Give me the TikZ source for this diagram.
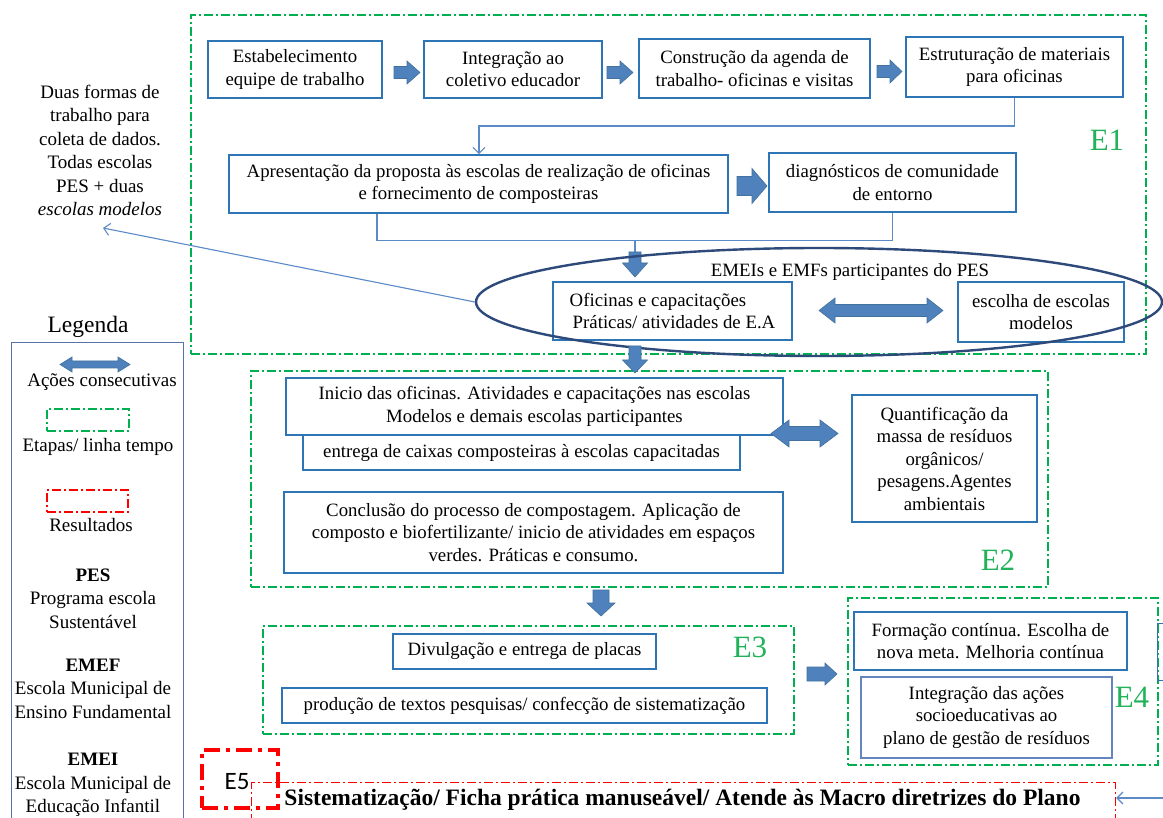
\documentclass[tikz,border=0pt]{standalone}
\usepackage{fontspec}
\setmainfont{Liberation Serif}
\newfontfamily\tagsans{Carlito}
\usetikzlibrary{shapes.geometric,arrows.meta,calc}

\definecolor{boxblue}{HTML}{2E75B6}
\definecolor{softblue}{HTML}{6585BF}
\definecolor{arrowfill}{HTML}{4F81BD}
\definecolor{arrowedge}{HTML}{41719C}
\definecolor{linkblue}{HTML}{5B8AC6}
\definecolor{ringblue}{HTML}{2E4A7A}
\definecolor{stagegreen}{HTML}{00B050}
\definecolor{labelgreen}{HTML}{22B35A}
\definecolor{resultred}{HTML}{FF0000}
\definecolor{legendedge}{HTML}{5873A3}

\newcommand\txtfont{\fontsize{18.8}{22.5}\selectfont}
\newcommand\legfont{\fontsize{19}{23.5}\selectfont}

\tikzset{
  box/.style={draw=boxblue, line width=1.6pt, fill=white, align=center,
    inner sep=0pt, font=\txtfont},
  stage/.style={draw=stagegreen, line width=1.2pt,
    dash pattern=on 9pt off 3pt on 2pt off 3pt, inner sep=0pt},
  resultframe/.style={draw=resultred, line width=1.2pt,
    dash pattern=on 9pt off 3pt on 2pt off 3pt},
  tagframe/.style={draw=resultred, line width=3.2pt,
    dash pattern=on 16pt off 6pt on 4pt off 6pt},
  stagelabel/.style={text=labelgreen, font=\fontsize{31}{34}\selectfont, inner sep=0pt},
  link/.style={draw=linkblue, line width=1.1pt},
  linktip/.style={-{Straight Barb[length=6pt,width=12pt]}},
  blockarrow/.style={fill=arrowfill, draw=arrowedge, line width=0.6pt},
  plain/.style={align=center, inner sep=0pt, font=\txtfont},
  legtext/.style={align=center, inner sep=0pt, font=\legfont},
  % single block arrow along +x: length, shaft half width, head half width, head length
  pics/barrow/.style n args={4}{code={
    \path[blockarrow] (0,-#2) -- ({#1-#4},-#2) -- ({#1-#4},-#3) -- (#1,0)
      -- ({#1-#4},#3) -- ({#1-#4},#2) -- (0,#2) -- cycle;
  }},
  % double block arrow along +x
  pics/dbarrow/.style n args={4}{code={
    \path[blockarrow] (0,0) -- (#4,-#3) -- (#4,-#2) -- ({#1-#4},-#2) -- ({#1-#4},-#3)
      -- (#1,0) -- ({#1-#4},#3) -- ({#1-#4},#2) -- (#4,#2) -- (#4,#3) -- cycle;
  }},
}

\begin{document}
\begin{tikzpicture}[x=1pt,y=-1pt]
\useasboundingbox[fill=white] (0,0) rectangle (1163,818);

% stage frames
\node[stage, minimum width=955pt, minimum height=339pt] (e1) at (668.5,184.5) {};
\node[stage, minimum width=797pt, minimum height=216pt] (e2) at (649.5,479) {};
\node[stage, minimum width=531pt, minimum height=108pt] (e3) at (528.5,680) {};
\node[stage, minimum width=310pt, minimum height=167pt] (e4) at (1003,681.5) {};

\node[stagelabel] (l1) at (1107,140) {E1};
\node[stagelabel] (l2) at (998,560) {E2};
\node[stagelabel] (l3) at (750,647) {E3};
\node[stagelabel] (l4) at (1132,697) {E4};

% E1: first row
\node[box, minimum width=174pt, minimum height=57pt] (b1) at (295,69.5)
  {Estabelecimento\\equipe de trabalho};
\node[box, minimum width=178pt, minimum height=57pt] (b2) at (513,69.5)
  {Integração ao\\coletivo educador};
\node[box, minimum width=231pt, minimum height=59pt] (b3) at (754.5,68.5)
  {Construção da agenda de\\trabalho- oficinas e visitas};
\node[box, minimum width=217pt, minimum height=60pt] (b4) at (1014.5,67)
  {Estruturação de materiais\\para oficinas};

\pic at (394,72.5) {barrow={26}{6}{11.5}{13}};
\pic at (607,72.5) {barrow={26}{6}{11.5}{13}};
\pic at (877,71.5) {barrow={25}{6}{11.5}{12}};

% E1: second row
\node[box, minimum width=499pt, minimum height=58pt] (b5) at (478.5,184)
  {Apresentação da proposta às escolas de realização de oficinas\\e fornecimento de composteiras};
\node[box, minimum width=247pt, minimum height=59pt] (b6) at (892.5,182.5)
  {diagnósticos de comunidade\\de entorno};
\pic at (737,186) {barrow={30}{9.5}{17.5}{15}};

\coordinate (turn) at (479,126);
\draw[link, linktip] (b4.south) |- (turn) -- (turn |- b5.north);

\coordinate (join) at (635,240);
\draw[link] ([xshift=-101.5pt]b5.south) -- ++(0,27) -| (b6.south);
\draw[link] (join) -- ++(0,12);
\pic[rotate=-90] at (635,252) {barrow={25}{6}{12.5}{14}};

% E1: participating schools
\node[box, minimum width=239pt, minimum height=58pt, align=left] (b7) at (672.5,311)
  {Oficinas e capacitações\\\hspace*{3pt}Práticas/ atividades de E.A};
\node[box, minimum width=166pt, minimum height=60pt] (b8) at (1041,312)
  {escolha de escolas\\modelos};
\pic at (819,310.5) {dbarrow={124}{6}{12.5}{16}};
\node[plain] (emeis) at (850,272) {EMEIs e EMFs participantes do PES};
\node[draw=ringblue, line width=2.4pt, ellipse, minimum width=686pt,
  minimum height=108pt, inner sep=0pt] (ring) at (819,302) {};

% note on the left
\node[legtext] (duas) at (100,150.5)
  {Duas formas de\\trabalho para\\coleta de dados.\\Todas escolas\\PES + duas\\\textit{escolas modelos}};
\coordinate (duastip) at (103,228);
\draw[link, linktip] (ring.west) -- (duastip);

\pic[rotate=-90] at (635,346) {barrow={27}{6}{12.5}{13}};

% E2
\node[box, minimum width=437pt, minimum height=35pt] (b10) at (521.5,452.5)
  {entrega de caixas composteiras à escolas capacitadas};
\node[box, minimum width=497pt, minimum height=57pt] (b9) at (534.5,406.5)
  {Inicio das oficinas. Atividades e capacitações nas escolas\\Modelos e demais escolas participantes};
\node[box, minimum width=185pt, minimum height=127pt] (b11) at (944.5,458.5)
  {Quantificação da\\massa de resíduos\\orgânicos/\\pesagens.Agentes\\ambientais};
\node[box, minimum width=499pt, minimum height=81pt] (b12) at (533.5,532.5)
  {Conclusão do processo de compostagem. Aplicação de\\composto e biofertilizante/ inicio de atividades em espaços\\verdes. Práticas e consumo.};
\pic at (771,433.5) {dbarrow={67}{7}{13.5}{18}};

\pic[rotate=-90] at (601,590) {barrow={26}{8}{14}{13}};

% E3
\node[box, minimum width=263pt, minimum height=35pt] (b13) at (524.5,651.5)
  {Divulgação e entrega de placas};
\node[box, minimum width=485pt, minimum height=35pt] (b14) at (524.5,705.5)
  {produção de textos pesquisas/ confecção de sistematização};

\pic at (807,674) {barrow={30}{7}{11}{12}};

% E4
\node[box, minimum width=273pt, minimum height=58pt] (b15) at (990.5,641)
  {Formação contínua. Escolha de\\nova meta. Melhoria contínua};
\node[box, draw=softblue, minimum width=251pt, minimum height=81pt] (b16) at (986.5,717.5)
  {Integração das ações\\socioeducativas ao\\plano de gestão de resíduos};
\node[draw=boxblue, line width=1.4pt, inner sep=0pt, anchor=north west,
  minimum width=40pt, minimum height=57pt] (edgebox) at (1157,623) {};

% E5: results
\node[resultframe, inner sep=0pt, anchor=north west, minimum width=864pt,
  minimum height=60pt] (res) at (251,782) {};
\node[font=\fontsize{23.5}{26}\selectfont\bfseries, inner sep=0pt] (restext) at (682.5,800)
  {Sistematização/ Ficha prática manuseável/ Atende às Macro diretrizes do Plano};
\node[tagframe, inner sep=0pt, minimum width=76pt, minimum height=58pt] (tag) at (240,779) {};
\node[font=\tagsans\fontsize{25}{28}\selectfont, inner sep=0pt] (tagtext) at (237,782) {E5};
\coordinate (resin) at (1163,798);
\draw[link, linktip] (resin) -- (resin -| res.east);

% legend
\node[font=\fontsize{23.5}{26}\selectfont, inner sep=0pt] (legtitle) at (88,327) {Legenda};
\node[draw=legendedge, line width=1.4pt, inner sep=0pt, anchor=north west,
  minimum width=172pt, minimum height=500pt] (legbox) at (11,342) {};
\pic at (60,364.5) {dbarrow={70}{3.5}{7.5}{12}};
\node[legtext] (leg1) at (102,382) {Ações consecutivas};
\node[stage, minimum width=82pt, minimum height=22pt] (leg2box) at (88,420) {};
\node[legtext] (leg2) at (98,447) {Etapas/ linha tempo};
\node[resultframe, inner sep=0pt, minimum width=81pt, minimum height=22pt] (leg3box) at (87.5,501) {};
\node[legtext] (leg3) at (91,525) {Resultados};
\node[legtext] (pes) at (93,598.5) {\textbf{PES}\\Programa escola\\Sustentável};
\node[legtext] (emef) at (93,688.5) {\textbf{EMEF}\\Escola Municipal de\\Ensino Fundamental};
\node[legtext] (emei) at (93,785) {\textbf{EMEI}\\Escola Municipal de\\Educação Infantil};
\end{tikzpicture}
\end{document}
